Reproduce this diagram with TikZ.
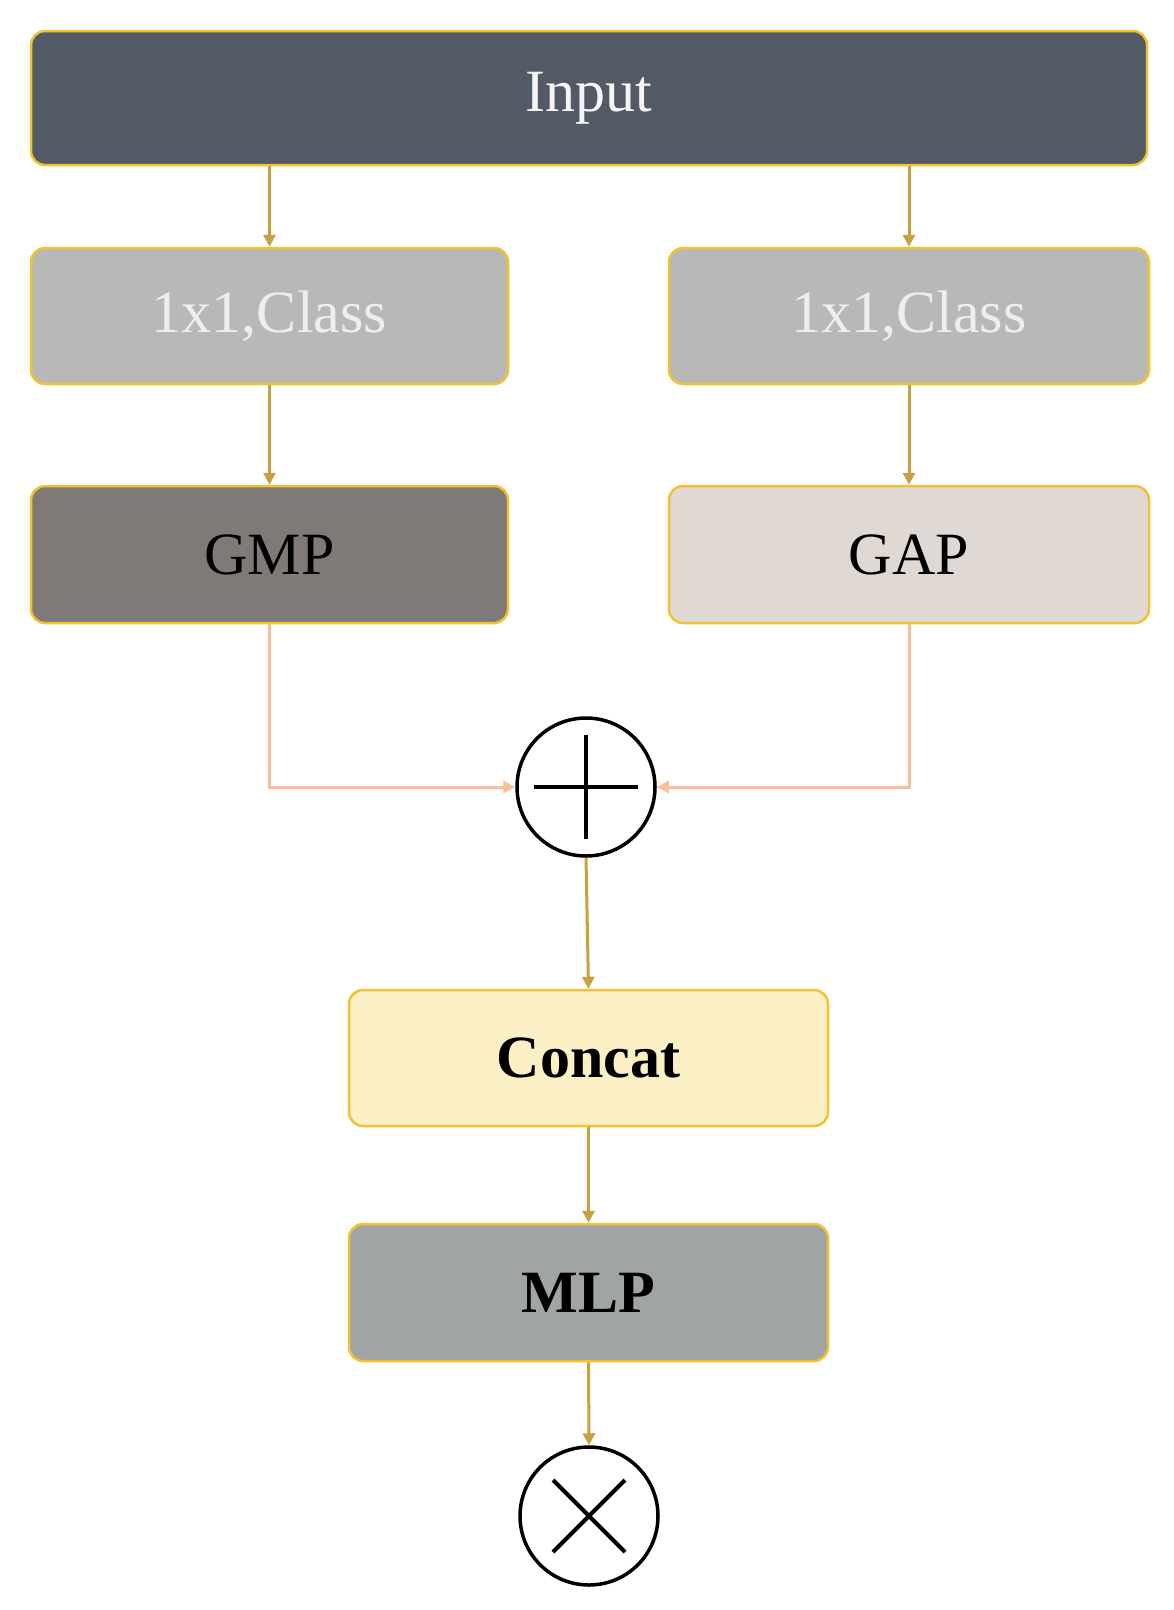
\documentclass[tikz,border=0pt]{standalone}
\usepackage{fontspec}
\setmainfont{Liberation Serif}
\usetikzlibrary{arrows.meta}
\definecolor{gold}{HTML}{F2C230}
\definecolor{arr}{HTML}{C9A040}
\definecolor{org}{HTML}{F8BF98}
\begin{document}
\begin{tikzpicture}[x=1pt,y=-1pt,
 box/.style={draw=gold,line width=2.5pt,rounded corners=14pt,inner sep=0pt},
 a/.style={draw=arr,line width=3pt,-{Triangle[length=12pt,width=12pt]}},
 o/.style={draw=org,line width=3pt,-{Triangle[length=12pt,width=12pt]}}]
\useasboundingbox (0,0) rectangle (1174,1610);
\node[box,fill={rgb,255:red,82;green,90;blue,102},minimum width=1116pt,minimum height=134pt,text={rgb,255:red,245;green,245;blue,245},font=\fontsize{60}{60}\selectfont] (in) at (589,98) {Input};
\node[box,fill={rgb,255:red,184;green,184;blue,182},minimum width=477pt,minimum height=136pt,text={rgb,255:red,238;green,238;blue,238},font=\fontsize{60}{60}\selectfont] (c1) at (269.5,316) {1x1,Class};
\node[box,fill={rgb,255:red,184;green,184;blue,182},minimum width=480pt,minimum height=136pt,text={rgb,255:red,238;green,238;blue,238},font=\fontsize{60}{60}\selectfont] (c2) at (909,316) {1x1,Class};
\node[box,fill={rgb,255:red,127;green,122;blue,119},minimum width=477pt,minimum height=137pt,font=\fontsize{60}{60}\selectfont] (gmp) at (269.5,554.5) {GMP};
\node[box,fill={rgb,255:red,224;green,216;blue,211},minimum width=480pt,minimum height=137pt,font=\fontsize{60}{60}\selectfont] (gap) at (909,554.5) {GAP};
\node[draw,circle,line width=3.5pt,minimum size=138pt,inner sep=0pt] (p) at (586,787) {};
\draw[line width=4pt] ([xshift=-52pt]p.center) -- ([xshift=52pt]p.center) ([yshift=-52pt]p.center) -- ([yshift=52pt]p.center);
\node[box,fill={rgb,255:red,250;green,239;blue,197},minimum width=479pt,minimum height=136pt,font=\bfseries\fontsize{60}{60}\selectfont] (cc) at (588.5,1058) {Concat};
\node[box,fill={rgb,255:red,160;green,164;blue,165},minimum width=479pt,minimum height=137pt,font=\bfseries\fontsize{60}{60}\selectfont] (mlp) at (588.5,1292.5) {MLP};
\node[draw,circle,line width=3.5pt,minimum size=138pt,inner sep=0pt] (t) at (589,1516) {};
\draw[line width=4pt] ([shift={(-36pt,-36pt)}]t.center) -- ([shift={(36pt,36pt)}]t.center) ([shift={(36pt,-36pt)}]t.center) -- ([shift={(-36pt,36pt)}]t.center);
\draw[a] (in.south -| c1) -- (c1.north);
\draw[a] (in.south -| c2) -- (c2.north);
\draw[a] (c1) -- (gmp);
\draw[a] (c2) -- (gap);
\draw[o] (gmp.south) |- (p.west);
\draw[o] (gap.south) |- (p.east);
\draw[a] (p.south) -- (cc.north);
\draw[a] (cc) -- (mlp);
\draw[a] (mlp.south) -- (t.north);
\end{tikzpicture}
\end{document}
